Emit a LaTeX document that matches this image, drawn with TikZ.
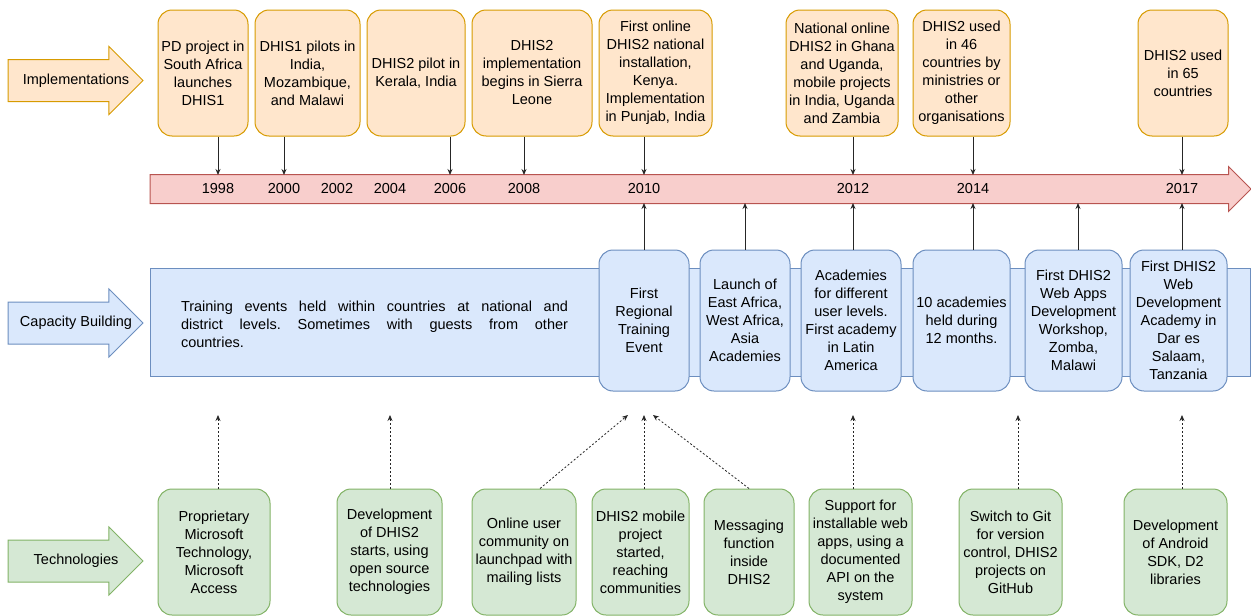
\documentclass[tikz,border=0pt]{standalone}
\usepackage{fontspec}
\setmainfont{Liberation Sans}
\usepackage{tikz}
\usetikzlibrary{positioning, shapes.arrows, arrows.meta}
\definecolor{implfill}{HTML}{FFE6CC}
\definecolor{impldraw}{HTML}{D79B00}
\definecolor{linefill}{HTML}{F8CECC}
\definecolor{linedraw}{HTML}{B85450}
\definecolor{capfill}{HTML}{DAE8FC}
\definecolor{capdraw}{HTML}{6C8EBF}
\definecolor{techfill}{HTML}{D5E8D4}
\definecolor{techdraw}{HTML}{82B366}
\tikzstyle{implbox} = [rectangle, rounded corners=14pt, minimum height=126pt, align=center, inner sep=2pt, line width=1pt, draw=impldraw, fill=implfill]
\tikzstyle{capbox} = [rectangle, rounded corners=14pt, minimum height=141pt, align=center, inner sep=2pt, line width=1pt, draw=capdraw, fill=capfill]
\tikzstyle{techbox} = [rectangle, rounded corners=14pt, minimum height=126pt, align=center, inner sep=2pt, line width=1pt, draw=techdraw, fill=techfill]
\tikzstyle{bigarrow} = [single arrow, single arrow head extend=13pt, minimum height=135pt, text height=10pt, text depth=3pt, inner xsep=0pt, inner ysep=14pt, outer sep=0pt, anchor=tail, line width=1pt]
\tikzstyle{arrow} = [line width=1pt, draw=black!85, ->, >={Stealth[length=6pt,width=5pt]}]
\tikzstyle{dasharrow} = [arrow, line width=0.8pt, dash pattern=on 2pt off 2pt]
\tikzstyle{every node}=[font=\fontsize{14.5}{18}\selectfont]
\newcommand{\arrowlabel}[1]{\makebox[0pt]{\hspace*{22pt}#1}}

\begin{document}
\begin{tikzpicture}[x=1pt, y=-1pt]
		\useasboundingbox (0,0) rectangle (1251,616);
		%row labels
		\node (impl) [bigarrow, draw=impldraw, fill=implfill] at (8,80.5) {\arrowlabel{Implementations}};
		\node (cap) [bigarrow, draw=capdraw, fill=capfill] at (8,323) {\arrowlabel{Capacity Building}};
		\node (tech) [bigarrow, draw=techdraw, fill=techfill] at (8,561) {\arrowlabel{Technologies}};
		
		%timeline
		\node (tl) [single arrow, single arrow head extend=8pt, minimum height=1101pt, inner xsep=0pt, inner ysep=14pt, outer sep=0pt, anchor=tail, line width=1pt, draw=linedraw, fill=linefill] at (150,189) {};
		\coordinate (tltop) at (0,175);
		\coordinate (tlbot) at (0,203);
		\node (y98) at (218,189) {1998};
		\node (y00) at (284,189) {2000};
		\node (y02) at (337,189) {2002};
		\node (y04) at (390,189) {2004};
		\node (y06) at (450,189) {2006};
		\node (y08) at (524,189) {2008};
		\node (y10) at (644,189) {2010};
		\node (y12) at (853,189) {2012};
		\node (y14) at (973,189) {2014};
		\node (y17) at (1182,189) {2017};
		
		%implementations
		\node (i1) [implbox, minimum width=90pt] at (203,73) {PD project in\\South Africa\\launches\\DHIS1};
		\node (i2) [implbox, minimum width=105pt] at (307.5,73) {DHIS1 pilots in\\India,\\Mozambique,\\and Malawi};
		\node (i3) [implbox, minimum width=98pt] at (416,73) {DHIS2 pilot in\\Kerala, India};
		\node (i4) [implbox, minimum width=120pt] at (532,73) {DHIS2\\implementation\\begins in Sierra\\Leone};
		\node (i5) [implbox, minimum width=113pt] at (655.5,73) {First online\\DHIS2 national\\installation,\\Kenya.\\Implementation\\in Punjab, India};
		\node (i6) [implbox, minimum width=112pt] at (842,73) {National online\\DHIS2 in Ghana\\and Uganda,\\mobile projects\\in India, Uganda\\and Zambia};
		\node (i7) [implbox, minimum width=97pt] at (961.5,73) {DHIS2 used\\in 46\\countries by\\ministries or\\other\\organisations};
		\node (i8) [implbox, minimum width=90pt] at (1183,73) {DHIS2 used\\in 65\\countries};
		
		\draw [arrow] (i1.south -| y98) -- (y98 |- tltop);
		\draw [arrow] (i2.south -| y00) -- (y00 |- tltop);
		\draw [arrow] (i3.south -| y06) -- (y06 |- tltop);
		\draw [arrow] (i4.south -| y08) -- (y08 |- tltop);
		\draw [arrow] (i5.south -| y10) -- (y10 |- tltop);
		\draw [arrow] (i6.south -| y12) -- (y12 |- tltop);
		\draw [arrow] (i7.south -| y14) -- (y14 |- tltop);
		\draw [arrow] (i8.south -| y17) -- (y17 |- tltop);
		
		%capacity building
		\node (band) [rectangle, anchor=north west, minimum width=1100pt, minimum height=108pt, line width=1pt, draw=capdraw, fill=capfill] at (150,268) {};
		\node (bandtext) [text width=387pt, align=justify, inner sep=0pt] at (374.5,324.5) {\frenchspacing Training events held within countries at national and\linebreak district levels. Sometimes with guests from other\linebreak countries.};
		\node (c1) [capbox, minimum width=90pt] at (644,320.5) {First\\Regional\\Training\\Event};
		\node (c2) [capbox, minimum width=90pt] at (745,320.5) {Launch of\\East Africa,\\West Africa,\\Asia\\Academies};
		\node (c3) [capbox, minimum width=100pt] at (851,320.5) {Academies\\for different\\user levels.\\First academy\\in Latin\\America};
		\node (c4) [capbox, minimum width=97pt] at (961.5,320.5) {10 academies\\held during\\12 months.};
		\node (c5) [capbox, minimum width=97pt] at (1073.5,320.5) {First DHIS2\\Web Apps\\Development\\Workshop,\\Zomba,\\Malawi};
		\node (c6) [capbox, minimum width=97pt] at (1178.5,320.5) {First DHIS2\\Web\\Development\\Academy in\\Dar es\\Salaam,\\Tanzania};
		
		\coordinate (m2) at (745,203);
		\coordinate (m5) at (1078,203);
		\draw [arrow] (c1.north -| y10) -- (y10 |- tlbot);
		\draw [arrow] (c2.north -| m2) -- (m2);
		\draw [arrow] (c3.north -| y12) -- (y12 |- tlbot);
		\draw [arrow] (c4.north -| y14) -- (y14 |- tlbot);
		\draw [arrow] (c5.north -| m5) -- (m5);
		\draw [arrow] (c6.north -| y17) -- (y17 |- tlbot);
		
		%technologies
		\node (t1) [techbox, minimum width=112pt] at (214,552) {Proprietary\\Microsoft\\Technology,\\Microsoft\\Access};
		\node (t2) [techbox, minimum width=105pt] at (389.5,552) {Development\\of DHIS2\\starts, using\\open source\\technologies};
		\node (t3) [techbox, minimum width=104pt] at (524,552) {Online user\\community on\\launchpad with\\mailing lists};
		\node (t4) [techbox, minimum width=97pt] at (640.5,552) {DHIS2 mobile\\project\\started,\\reaching\\communities};
		\node (t5) [techbox, minimum width=90pt] at (749,552) {Messaging\\function\\inside\\DHIS2};
		\node (t6) [techbox, minimum width=103pt] at (860.5,552) {Support for\\installable web\\apps, using a\\documented\\API on the\\system};
		\node (t7) [techbox, minimum width=103pt] at (1010.5,552) {Switch to Git\\for version\\control, DHIS2\\projects on\\GitHub};
		\node (t8) [techbox, minimum width=103pt] at (1175.5,552) {Development\\of Android\\SDK, D2\\libraries};
		
		\coordinate (d1) at (218,415);
		\coordinate (d2) at (390,415);
		\coordinate (d3) at (628,415);
		\coordinate (d4) at (644,415);
		\coordinate (d5) at (653,415);
		\coordinate (d6) at (853,415);
		\coordinate (d7) at (1018,415);
		\coordinate (d8) at (1182,415);
		\draw [dasharrow] (t1.north -| d1) -- (d1);
		\draw [dasharrow] (t2.north -| d2) -- (d2);
		\draw [dasharrow] ([xshift=16pt]t3.north) -- (d3);
		\draw [dasharrow] (t4.north -| d4) -- (d4);
		\draw [dasharrow] (t5.north) -- (d5);
		\draw [dasharrow] (t6.north -| d6) -- (d6);
		\draw [dasharrow] (t7.north -| d7) -- (d7);
		\draw [dasharrow] (t8.north -| d8) -- (d8);
		
	\end{tikzpicture}
\end{document}
